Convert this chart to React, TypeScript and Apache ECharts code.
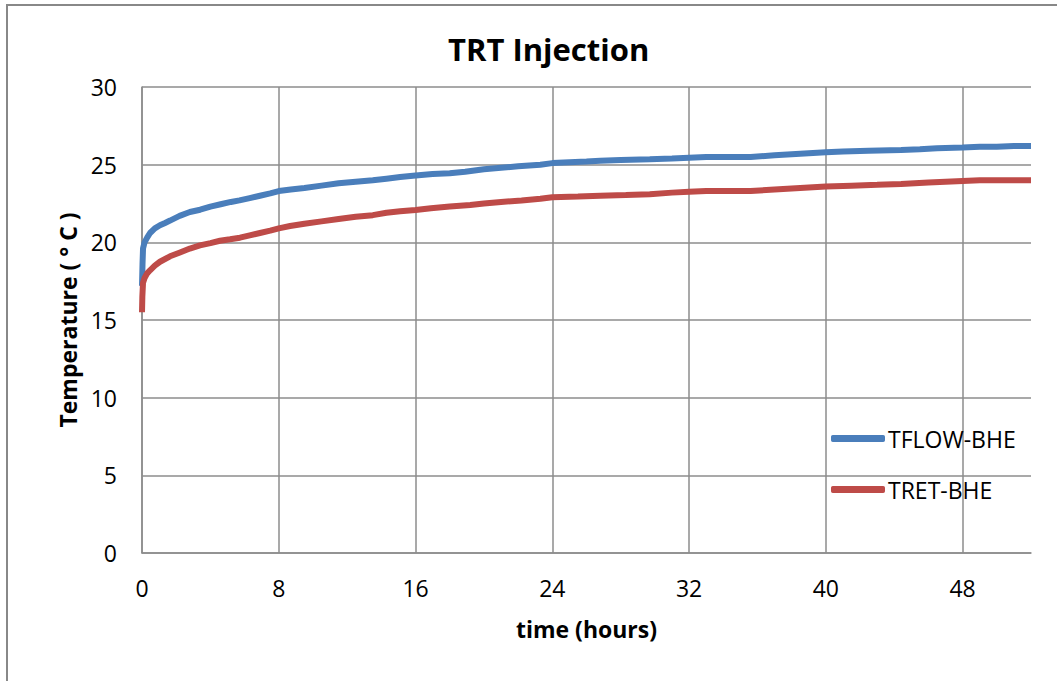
import React, { useEffect, useRef } from "react";
import * as echarts from "echarts";

const title = "TRT Injection";
const xAxisName = "time (hours)";
const yAxisName = "Temperature ( ° C )";
const seriesNames = ["TFLOW-BHE", "TRET-BHE"];
const xTicks = [0, 8, 16, 24, 32, 40, 48];

const tflow: [number, number][] = [
  [0, 17.2], [0.03, 18.6], [0.06, 19.6], [0.15, 20.0], [0.3, 20.3], [0.47, 20.6],
  [0.75, 20.9], [1.05, 21.1], [1.35, 21.25], [1.64, 21.4], [2.2, 21.7], [2.8, 21.95],
  [3.4, 22.1], [4.0, 22.3], [4.6, 22.45], [5.2, 22.6], [5.7, 22.7], [6.3, 22.85],
  [6.9, 23.0], [7.5, 23.15], [8, 23.3], [8.7, 23.4], [9.5, 23.5], [10.5, 23.65],
  [11.5, 23.8], [12.5, 23.9], [13.5, 24.0], [14.3, 24.1], [15.1, 24.2], [16, 24.3],
  [17, 24.4], [18, 24.45], [18.9, 24.55], [20, 24.7], [21, 24.8], [22, 24.9],
  [23.3, 25.0], [24, 25.1], [25, 25.15], [26, 25.2], [26.8, 25.25], [28, 25.3],
  [29.7, 25.35], [31, 25.4], [32, 25.45], [33, 25.5], [34, 25.5], [35.6, 25.5],
  [37, 25.6], [38.5, 25.7], [40, 25.8], [41, 25.85], [42.5, 25.9], [44.4, 25.95],
  [45.5, 26.0], [46.5, 26.05], [48, 26.1], [49, 26.15], [50, 26.15], [51, 26.2], [52, 26.2],
];

const tret: [number, number][] = [
  [0, 15.5], [0.02, 16.5], [0.06, 17.4], [0.15, 17.7], [0.3, 18.0], [0.47, 18.2],
  [0.75, 18.5], [1.05, 18.75], [1.64, 19.1], [2.22, 19.35], [2.8, 19.6], [3.39, 19.8],
  [4.0, 19.95], [4.56, 20.1], [5.15, 20.2], [5.73, 20.3], [6.3, 20.45], [6.9, 20.6],
  [7.5, 20.75], [8, 20.9], [8.66, 21.05], [9.5, 21.2], [10.5, 21.35], [11.5, 21.5],
  [12.5, 21.65], [13.5, 21.75], [14.3, 21.9], [15.1, 22.0], [16, 22.08], [16.9, 22.2],
  [18, 22.3], [19.2, 22.4], [20, 22.5], [21, 22.6], [22.2, 22.7], [23.3, 22.8],
  [24, 22.9], [25.5, 22.95], [26.8, 23.0], [28.3, 23.05], [29.7, 23.1], [31, 23.2],
  [32, 23.25], [33, 23.3], [34, 23.3], [35.6, 23.3], [37, 23.4], [38.5, 23.5],
  [40, 23.6], [41.5, 23.65], [43, 23.7], [44.4, 23.75], [46, 23.85], [47, 23.9],
  [48, 23.95], [49, 24.0], [50.5, 24.0], [52, 24.0],
];

const FONT = "'Open Sans', 'Liberation Sans', sans-serif";
const GRID = "#8c8c8c";

export default function App() {
  const ref = useRef<HTMLDivElement>(null);
  useEffect(() => {
    if (!ref.current) return;
    const chart = echarts.init(ref.current, undefined, { renderer: "svg" });
    chart.setOption({
      animation: false,
      backgroundColor: "#ffffff",
      title: {
        text: title,
        left: 443,
        top: 28,
        textStyle: { fontFamily: FONT, fontSize: 31, fontWeight: "bold", color: "#000" },
      },
      graphic: [
        {
          type: "rect",
          shape: { x: 7, y: 5, width: 1100, height: 720 },
          style: { fill: "none", stroke: "#888", lineWidth: 2 },
          silent: true,
        },
      ],
      grid: { left: 142, top: 87, right: 26, bottom: 128, containLabel: false },
      legend: {
        orient: "vertical",
        left: 826,
        top: 422,
        itemWidth: 54,
        itemHeight: 7,
        itemGap: 28,
        icon: "roundRect",
        textStyle: { fontFamily: FONT, fontSize: 23, color: "#000", padding: [0, 0, 0, -2] },
        data: seriesNames,
      },
      xAxis: {
        type: "value",
        min: 0,
        max: 52,
        interval: 8,
        name: xAxisName,
        nameLocation: "middle",
        nameGap: 64,
        nameTextStyle: { fontFamily: FONT, fontSize: 23, fontWeight: "bold", color: "#000" },
        axisLine: { show: true, lineStyle: { color: GRID, width: 1.5 } },
        axisTick: { show: false },
        axisLabel: {
          margin: 23,
          fontFamily: FONT,
          fontSize: 23,
          color: "#000",
          showMaxLabel: false,
          formatter: (v: number) => (xTicks.includes(v) ? String(v) : ""),
        },
        splitLine: { show: true, showMaxLine: false, lineStyle: { color: GRID, width: 1.5 } },
      },
      yAxis: {
        type: "value",
        min: 0,
        max: 30,
        interval: 5,
        name: yAxisName,
        nameLocation: "middle",
        nameGap: 62,
        nameTextStyle: { fontFamily: FONT, fontSize: 23, fontWeight: "bold", color: "#000" },
        axisLine: { show: true, lineStyle: { color: GRID, width: 1.5 } },
        axisTick: { show: false },
        axisLabel: { margin: 25, fontFamily: FONT, fontSize: 23, color: "#000" },
        splitLine: { show: true, lineStyle: { color: GRID, width: 1.5 } },
      },
      series: [
        {
          name: seriesNames[0],
          type: "line",
          data: tflow,
          showSymbol: false,
          color: "#4a7ebb",
          lineStyle: { width: 6, color: "#4a7ebb" },
        },
        {
          name: seriesNames[1],
          type: "line",
          data: tret,
          showSymbol: false,
          color: "#be4b48",
          lineStyle: { width: 6, color: "#be4b48" },
        },
      ],
    });
    return () => chart.dispose();
  }, []);
  return (
    <div
      ref={ref}
      style={{ position: "fixed", left: 0, top: 0, width: 1057, height: 681 }}
    />
  );
}
